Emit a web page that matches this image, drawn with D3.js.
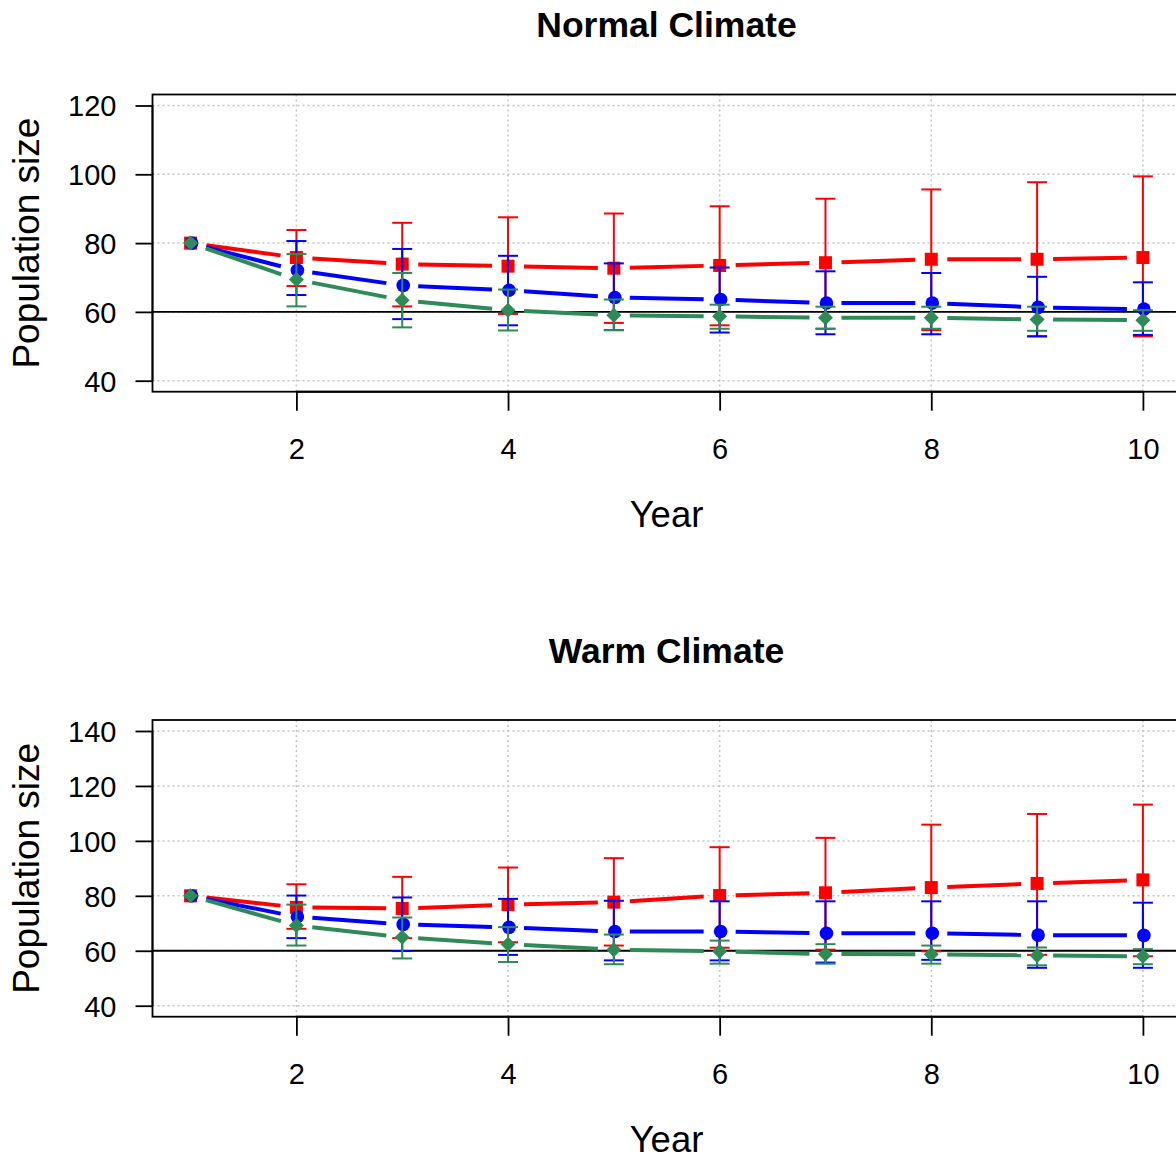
<!DOCTYPE html>
<html><head><meta charset="utf-8">
<script src="https://cdn.jsdelivr.net/npm/d3@7"></script>
<style>body{margin:0;background:#fff}svg{display:block}</style>
</head><body>
<svg id="c" width="1176" height="1160"></svg>
<script>
const years = [1,2,3,4,5,6,7,8,9,10];
const xTicks = [2,4,6,8,10];
const normalTicks = [40,60,80,100,120];
const warmTicks = [40,60,80,100,120,140];

const normalRed      = [80, 75.8, 73.9, 73.3, 72.7, 73.5, 74.3, 75.3, 75.3, 75.8];
const normalRedUpper = [80, 83.8, 85.9, 87.5, 88.6, 90.7, 92.9, 95.6, 97.7, 99.4];
const normalRedLower = [80, 67.5, 61.6, 59.4, 56.8, 56.1, 55.1, 54.7, 52.9, 52.9];
const normalBlue      = [80, 72.1, 67.7, 66.3, 64.2, 63.6, 62.6, 62.6, 61.3, 60.8];
const normalBlueUpper = [80, 80.6, 78.3, 76.3, 74.1, 72.9, 71.8, 71.3, 70.2, 68.6];
const normalBlueLower = [80, 64.9, 57.9, 56.1, 54.7, 54.0, 53.5, 53.5, 52.9, 53.3];
const normalGreen      = [80, 69.4, 63.4, 60.5, 59.0, 58.7, 58.3, 58.3, 57.8, 57.6];
const normalGreenUpper = [80, 76.8, 71.3, 66.5, 63.6, 62.1, 61.5, 61.5, 61.5, 60.5];
const normalGreenLower = [80, 61.6, 55.5, 54.6, 54.7, 55.1, 55.1, 55.1, 54.5, 54.5];

const warmRed      = [80, 75.8, 75.4, 76.8, 77.7, 80.1, 81.1, 83.0, 84.5, 85.8];
const warmRedUpper = [80, 84.2, 86.9, 90.3, 93.7, 97.7, 101.1, 105.9, 109.8, 113.2];
const warmRedLower = [80, 68.0, 64.6, 63.1, 61.9, 61.1, 60.4, 59.8, 58.5, 58.0];
const warmBlue      = [80, 72.4, 69.6, 68.5, 67.0, 67.0, 66.4, 66.4, 65.7, 65.6];
const warmBlueUpper = [80, 80.1, 79.4, 78.9, 78.2, 78.0, 78.0, 78.0, 78.0, 77.5];
const warmBlueLower = [80, 64.6, 59.9, 58.5, 56.5, 56.5, 55.7, 56.7, 53.8, 53.8];
const warmGreen      = [80, 69.2, 64.9, 62.4, 60.4, 59.8, 58.8, 58.7, 58.3, 58.0];
const warmGreenUpper = [80, 76.8, 72.1, 68.6, 65.9, 63.7, 62.4, 61.9, 61.2, 60.6];
const warmGreenLower = [80, 61.9, 57.2, 55.9, 55.1, 55.3, 55.3, 55.3, 54.7, 55.1];

const titles = ["Normal Climate", "Warm Climate"];
const xLabel = "Year";
const yLabel = "Population size";
const refLine = 60;

const colors = {red:"#ff0000", blue:"#0000ff", green:"#2e8b57"};
const FONT = "'Liberation Sans', Arial, sans-serif";
const svg = d3.select("#c");

function panel(cfg){
  const g = svg.append("g");
  const x = d3.scaleLinear().domain([0.64, 10.36]).range([152.5, 1181]);
  const y = d3.scaleLinear().domain(cfg.ydom).range([cfg.bottom, cfg.top]);
  // grid
  g.append("g").selectAll("line").data(xTicks).join("line")
    .attr("x1", d=>x(d)).attr("x2", d=>x(d)).attr("y1", cfg.top).attr("y2", cfg.bottom)
    .attr("stroke","#c4c4c4").attr("stroke-width",1.5).attr("stroke-dasharray","2,3");
  g.append("g").selectAll("line").data(cfg.yticks).join("line")
    .attr("x1", x.range()[0]).attr("x2", x.range()[1]).attr("y1", d=>y(d)).attr("y2", d=>y(d))
    .attr("stroke","#c4c4c4").attr("stroke-width",1.5).attr("stroke-dasharray","2,3");
  // reference line
  g.append("line").attr("x1", x.range()[0]).attr("x2", x.range()[1])
    .attr("y1", y(refLine)).attr("y2", y(refLine)).attr("stroke","#000").attr("stroke-width",1.8);
  // axes
  const xa = g.append("g").attr("transform", `translate(0,${cfg.bottom})`)
    .call(d3.axisBottom(x).tickValues(xTicks).tickSize(19).tickPadding(10).tickFormat(d3.format("d")));
  xa.select(".domain").attr("d", `M${x(2)},0H${x(10)}`).attr("stroke-width",2);
  xa.selectAll(".tick line").attr("stroke-width",1.8);
  xa.selectAll("text").attr("font-family",FONT).attr("font-size",29).attr("fill","#000")
    .attr("dy",null).attr("y", 67.5).attr("dominant-baseline","auto");
  const ya = g.append("g").attr("transform", `translate(${x.range()[0]},0)`)
    .call(d3.axisLeft(y).tickValues(cfg.yticks).tickSize(17).tickPadding(19).tickFormat(d3.format("d")));
  ya.select(".domain").attr("d", `M0,${y(cfg.yticks[0])}V${y(cfg.yticks[cfg.yticks.length-1])}`).attr("stroke-width",1.8);
  ya.selectAll(".tick line").attr("stroke-width",1.8);
  ya.selectAll("text").attr("font-family",FONT).attr("font-size",29).attr("fill","#000").attr("dy","0.36em");
  // box
  g.append("rect").attr("x", x.range()[0]).attr("y", cfg.top)
    .attr("width", x.range()[1]-x.range()[0]).attr("height", cfg.bottom-cfg.top)
    .attr("fill","none").attr("stroke","#000").attr("stroke-width",1.8);

  const gap = 16;
  cfg.series.forEach(s => {
    const sg = g.append("g");
    const pts = years.map((yr,i)=>[x(yr), y(s.mean[i])]);
    // lines with gaps (type="b")
    for (let i=0;i<pts.length-1;i++){
      const [x0,y0]=pts[i],[x1,y1]=pts[i+1];
      const dx=x1-x0, dy=y1-y0, L=Math.hypot(dx,dy);
      if (L <= 2*gap) continue;
      const ux=dx/L, uy=dy/L;
      sg.append("line").attr("x1",x0+ux*gap).attr("y1",y0+uy*gap)
        .attr("x2",x1-ux*gap).attr("y2",y1-uy*gap)
        .attr("stroke",s.color).attr("stroke-width",4);
    }
    // error bars
    years.forEach((yr,i)=>{
      const lo=y(s.lower[i]), hi=y(s.upper[i]), cx=x(yr);
      if (Math.abs(lo-hi) < 1) return;
      sg.append("line").attr("x1",cx).attr("x2",cx).attr("y1",lo).attr("y2",hi)
        .attr("stroke",s.color).attr("stroke-width",2);
      [lo,hi].forEach(v=>sg.append("line").attr("x1",cx-10).attr("x2",cx+10).attr("y1",v).attr("y2",v)
        .attr("stroke",s.color).attr("stroke-width",2));
    });
    // markers
    pts.forEach(([px,py])=>{
      if (s.shape==="square"){
        sg.append("rect").attr("x",px-6.5).attr("y",py-6.5).attr("width",13).attr("height",13).attr("fill",s.color);
      } else if (s.shape==="circle"){
        sg.append("circle").attr("cx",px+1).attr("cy",py).attr("r",6.8).attr("fill",s.color);
      } else {
        const r=7.5;
        sg.append("path").attr("d",`M${px},${py-r}L${px+r},${py}L${px},${py+r}L${px-r},${py}Z`).attr("fill",s.color);
      }
    });
  });

  // labels
  g.append("text").attr("x",666.5).attr("y",cfg.titleY).attr("text-anchor","middle")
    .attr("font-family",FONT).attr("font-weight","bold").attr("font-size",35.5).text(cfg.title);
  g.append("text").attr("x",666.5).attr("y",cfg.bottom+135.5).attr("text-anchor","middle")
    .attr("font-family",FONT).attr("font-size",36.5).text(xLabel);
  g.append("text").attr("transform",`translate(39,${(cfg.top+cfg.bottom)/2}) rotate(-90)`)
    .attr("text-anchor","middle").attr("font-family",FONT).attr("font-size",37).text(yLabel);
}

panel({
  title: titles[0], titleY: 36.7, top: 94.5, bottom: 391.7, ydom: [36.8, 123.2], yticks: normalTicks,
  series: [
    {color: colors.red, shape:"square", mean: normalRed, upper: normalRedUpper, lower: normalRedLower},
    {color: colors.blue, shape:"circle", mean: normalBlue, upper: normalBlueUpper, lower: normalBlueLower},
    {color: colors.green, shape:"diamond", mean: normalGreen, upper: normalGreenUpper, lower: normalGreenLower}
  ]
});
panel({
  title: titles[1], titleY: 663, top: 720, bottom: 1016.7, ydom: [36, 144], yticks: warmTicks,
  series: [
    {color: colors.red, shape:"square", mean: warmRed, upper: warmRedUpper, lower: warmRedLower},
    {color: colors.blue, shape:"circle", mean: warmBlue, upper: warmBlueUpper, lower: warmBlueLower},
    {color: colors.green, shape:"diamond", mean: warmGreen, upper: warmGreenUpper, lower: warmGreenLower}
  ]
});
</script>
</body></html>
